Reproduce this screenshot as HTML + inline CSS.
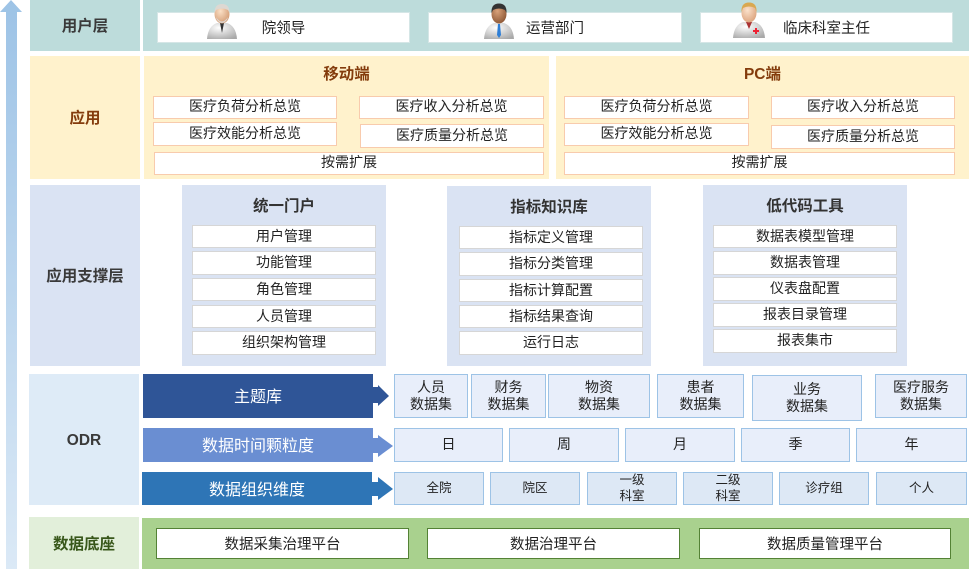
<!DOCTYPE html>
<html><head><meta charset="utf-8">
<style>
*{margin:0;padding:0}
body{width:969px;height:569px;position:relative;overflow:hidden;background:#fff;font-family:"Liberation Sans","Noto Sans CJK SC",sans-serif;color:#222}
.a{position:absolute;box-sizing:border-box}
.b{position:absolute;box-sizing:border-box;display:flex;align-items:center;justify-content:center;text-align:center;white-space:nowrap;padding-bottom:1px}
.lbl{font-size:15.5px;font-weight:bold;color:#3a3a3a}
.ub{background:#fff;border:1px solid #d5e6e6;font-size:14.5px}
.ai{background:#fff;border:1.5px solid #f8cbad;font-size:14px;padding-bottom:3px}
.si{background:#fff;border:1px solid #d6d6d6;font-size:14px;padding-bottom:2px}
.st{font-size:15.5px;font-weight:bold;color:#333}
.o1{background:#e8eefa;border:1.5px solid #9dc3e6;font-size:14px;line-height:17px}
.o3{background:#dde8f5;border:1.5px solid #9dc3e6;font-size:12.5px;line-height:16px}
.bar{color:#fff;font-size:16px;padding-bottom:2px}
.gb{background:#fff;border:1.5px solid #548235;font-size:14.5px}
</style></head><body>

<!-- left arrow -->
<svg class="a" style="left:0;top:0" width="24" height="569">
<defs><linearGradient id="ag" x1="0" y1="0" x2="0" y2="1"><stop offset="0" stop-color="#9dc3e6"/><stop offset="1" stop-color="#dbe9f6"/></linearGradient></defs>
<polygon points="11,0 22,12 17,12 17,569 6,569 6,12 0,12" fill="url(#ag)"/>
</svg>

<!-- user layer -->
<div class="b lbl" style="left:30px;top:0;width:110px;height:51px;background:#bddcdb">用户层</div>
<div class="a" style="left:143px;top:0;width:826px;height:51px;background:#bddcdb"></div>
<div class="b ub" style="left:157px;top:12px;width:253px;height:31px">院领导</div>
<div class="b ub" style="left:428px;top:12px;width:254px;height:31px">运营部门</div>
<div class="b ub" style="left:700px;top:12px;width:253px;height:31px">临床科室主任</div>

<!-- icon leader -->
<svg class="a" style="left:204px;top:2px" width="36" height="38" viewBox="0 0 34 38">
<defs><radialGradient id="coat" cx="0.4" cy="0.3" r="0.8"><stop offset="0" stop-color="#ffffff"/><stop offset="1" stop-color="#a8a8a8"/></radialGradient>
<radialGradient id="skin" cx="0.4" cy="0.35" r="0.7"><stop offset="0" stop-color="#fbe0c6"/><stop offset="1" stop-color="#d29a72"/></radialGradient></defs>
<path d="M2,37 Q3,24 12,21 L22,21 Q31,24 32,37 Z" fill="url(#coat)"/>
<path d="M15,21 L17,31 L19,21 Z" fill="#333"/>
<ellipse cx="17" cy="12" rx="7.5" ry="9.5" fill="url(#skin)"/>
<path d="M9.5,11 Q9.5,2 17,2 Q24.5,2 24.5,11 L23,8 Q17,5 11,8 Z" fill="#ddd8d2"/>
<path d="M11,15 Q17,24 23,15 Q22,20 17,21 Q12,20 11,15Z" fill="#dcd8d4"/>
</svg>
<!-- icon ops -->
<svg class="a" style="left:481px;top:2px" width="36" height="38" viewBox="0 0 34 38">
<defs><radialGradient id="skin2" cx="0.4" cy="0.35" r="0.7"><stop offset="0" stop-color="#d9a27a"/><stop offset="1" stop-color="#8c5634"/></radialGradient></defs>
<path d="M2,37 Q3,24 12,21 L22,21 Q31,24 32,37 Z" fill="url(#coat)"/>
<path d="M16,22 L15,33 L17,36 L19,33 L18,22 Z" fill="#2f7fd6"/>
<ellipse cx="17" cy="12" rx="7.5" ry="9.5" fill="url(#skin2)"/>
<path d="M9.5,11 Q9,1.5 17,1.5 Q25,1.5 24.5,11 L23,8 Q17,5 11,8 Z" fill="#333"/>
</svg>
<!-- icon doctor -->
<svg class="a" style="left:731px;top:1px" width="36" height="38" viewBox="0 0 36 38">
<defs><radialGradient id="skin3" cx="0.4" cy="0.35" r="0.7"><stop offset="0" stop-color="#fbe2cc"/><stop offset="1" stop-color="#dba27c"/></radialGradient></defs>
<path d="M2,37 Q3,24 12,21 L24,21 Q33,24 34,37 Z" fill="url(#coat)"/>
<path d="M15,21 L18,28 L21,21 Z" fill="#a33"/>
<rect x="22" y="29" width="6" height="2" fill="#e23"/><rect x="24" y="27" width="2" height="6" fill="#e23"/>
<ellipse cx="18" cy="12" rx="7.5" ry="9.5" fill="url(#skin3)"/>
<path d="M10.5,11 Q10,1.5 18,1.5 Q26,1.5 25.5,11 L24,7 Q18,4 12,7 Z" fill="#d9a850"/>
</svg>

<!-- application layer -->
<div class="b lbl" style="left:30px;top:56px;width:110px;height:123px;background:#fff2cc;color:#843c0c">应用</div>
<div class="a" style="left:144px;top:56px;width:405px;height:123px;background:#fff2cc"></div>
<div class="a" style="left:556px;top:56px;width:413px;height:123px;background:#fff2cc"></div>
<div class="b lbl" style="left:144px;top:62px;width:405px;height:22px;color:#843c0c">移动端</div>
<div class="b lbl" style="left:556px;top:62px;width:413px;height:22px;color:#843c0c">PC端</div>

<div class="b ai" style="left:153px;top:96px;width:184px;height:23px">医疗负荷分析总览</div>
<div class="b ai" style="left:359px;top:96px;width:185px;height:23px">医疗收入分析总览</div>
<div class="b ai" style="left:153px;top:122px;width:184px;height:24px">医疗效能分析总览</div>
<div class="b ai" style="left:360px;top:124px;width:184px;height:24px">医疗质量分析总览</div>
<div class="b ai" style="left:154px;top:152px;width:390px;height:23px">按需扩展</div>

<div class="b ai" style="left:564px;top:96px;width:185px;height:23px">医疗负荷分析总览</div>
<div class="b ai" style="left:771px;top:96px;width:184px;height:23px">医疗收入分析总览</div>
<div class="b ai" style="left:564px;top:123px;width:185px;height:23px">医疗效能分析总览</div>
<div class="b ai" style="left:771px;top:125px;width:184px;height:24px">医疗质量分析总览</div>
<div class="b ai" style="left:564px;top:152px;width:391px;height:23px">按需扩展</div>

<!-- support layer -->
<div class="b lbl" style="left:30px;top:185px;width:110px;height:181px;background:#dae3f3">应用支撑层</div>

<div class="a" style="left:182px;top:185px;width:204px;height:181px;background:#dae3f3"></div>
<div class="b st" style="left:182px;top:194px;width:204px;height:22px">统一门户</div>
<div class="b si" style="left:192px;top:225px;width:184px;height:23px">用户管理</div>
<div class="b si" style="left:192px;top:251px;width:184px;height:24px">功能管理</div>
<div class="b si" style="left:192px;top:278px;width:184px;height:23px">角色管理</div>
<div class="b si" style="left:192px;top:305px;width:184px;height:23px">人员管理</div>
<div class="b si" style="left:192px;top:331px;width:184px;height:24px">组织架构管理</div>

<div class="a" style="left:447px;top:186px;width:204px;height:180px;background:#dae3f3"></div>
<div class="b st" style="left:447px;top:195px;width:204px;height:22px">指标知识库</div>
<div class="b si" style="left:459px;top:226px;width:184px;height:23px">指标定义管理</div>
<div class="b si" style="left:459px;top:252px;width:184px;height:24px">指标分类管理</div>
<div class="b si" style="left:459px;top:279px;width:184px;height:23px">指标计算配置</div>
<div class="b si" style="left:459px;top:305px;width:184px;height:23px">指标结果查询</div>
<div class="b si" style="left:459px;top:331px;width:184px;height:24px">运行日志</div>

<div class="a" style="left:703px;top:185px;width:204px;height:181px;background:#dae3f3"></div>
<div class="b st" style="left:703px;top:194px;width:204px;height:22px">低代码工具</div>
<div class="b si" style="left:713px;top:225px;width:184px;height:23px">数据表模型管理</div>
<div class="b si" style="left:713px;top:251px;width:184px;height:24px">数据表管理</div>
<div class="b si" style="left:713px;top:277px;width:184px;height:24px">仪表盘配置</div>
<div class="b si" style="left:713px;top:303px;width:184px;height:24px">报表目录管理</div>
<div class="b si" style="left:713px;top:329px;width:184px;height:24px">报表集市</div>

<!-- ODR -->
<div class="b lbl" style="left:29px;top:374px;width:110px;height:131px;background:#deebf7;padding-top:3px;padding-bottom:0">ODR</div>

<div class="b bar" style="left:143px;top:374px;width:230px;height:44px;background:#2f5597">主题库</div>
<div class="b bar" style="left:143px;top:428px;width:230px;height:34px;background:#6a8ed2">数据时间颗粒度</div>
<div class="b bar" style="left:142px;top:472px;width:230px;height:33px;background:#2e75b6">数据组织维度</div>

<svg class="a" style="left:372px;top:370px" width="24" height="140">
<polygon points="0,17 6,17 6,15 17,26 6,36 6,33 0,33" fill="#2f5597"/>
<polygon points="0,68 6,68 6,65 21,76 6,87 6,83 0,83" fill="#6a8ed2"/>
<polygon points="0,112 6,112 6,107 21,119 6,130 6,126 0,126" fill="#2e75b6"/>
</svg>

<div class="b o1" style="left:394px;top:374px;width:74px;height:44px">人员<br>数据集</div>
<div class="b o1" style="left:471px;top:374px;width:75px;height:44px">财务<br>数据集</div>
<div class="b o1" style="left:548px;top:374px;width:102px;height:44px">物资<br>数据集</div>
<div class="b o1" style="left:657px;top:374px;width:87px;height:44px">患者<br>数据集</div>
<div class="b o1" style="left:752px;top:375px;width:110px;height:46px">业务<br>数据集</div>
<div class="b o1" style="left:875px;top:374px;width:92px;height:44px">医疗服务<br>数据集</div>

<div class="b o1" style="left:394px;top:428px;width:109px;height:34px">日</div>
<div class="b o1" style="left:509px;top:428px;width:110px;height:34px">周</div>
<div class="b o1" style="left:625px;top:428px;width:110px;height:34px">月</div>
<div class="b o1" style="left:741px;top:428px;width:109px;height:34px">季</div>
<div class="b o1" style="left:856px;top:428px;width:111px;height:34px">年</div>

<div class="b o3" style="left:394px;top:472px;width:90px;height:33px">全院</div>
<div class="b o3" style="left:490px;top:472px;width:90px;height:33px">院区</div>
<div class="b o3" style="left:587px;top:472px;width:90px;height:33px">一级<br>科室</div>
<div class="b o3" style="left:683px;top:472px;width:90px;height:33px">二级<br>科室</div>
<div class="b o3" style="left:779px;top:472px;width:90px;height:33px">诊疗组</div>
<div class="b o3" style="left:876px;top:472px;width:91px;height:33px">个人</div>

<!-- data base -->
<div class="b lbl" style="left:29px;top:517px;width:110px;height:52px;background:#e2efda;color:#38571a">数据底座</div>
<div class="a" style="left:142px;top:518px;width:827px;height:51px;background:#a9d18e"></div>
<div class="b gb" style="left:156px;top:528px;width:253px;height:31px">数据采集治理平台</div>
<div class="b gb" style="left:427px;top:528px;width:253px;height:31px">数据治理平台</div>
<div class="b gb" style="left:699px;top:528px;width:252px;height:31px">数据质量管理平台</div>

</body></html>
